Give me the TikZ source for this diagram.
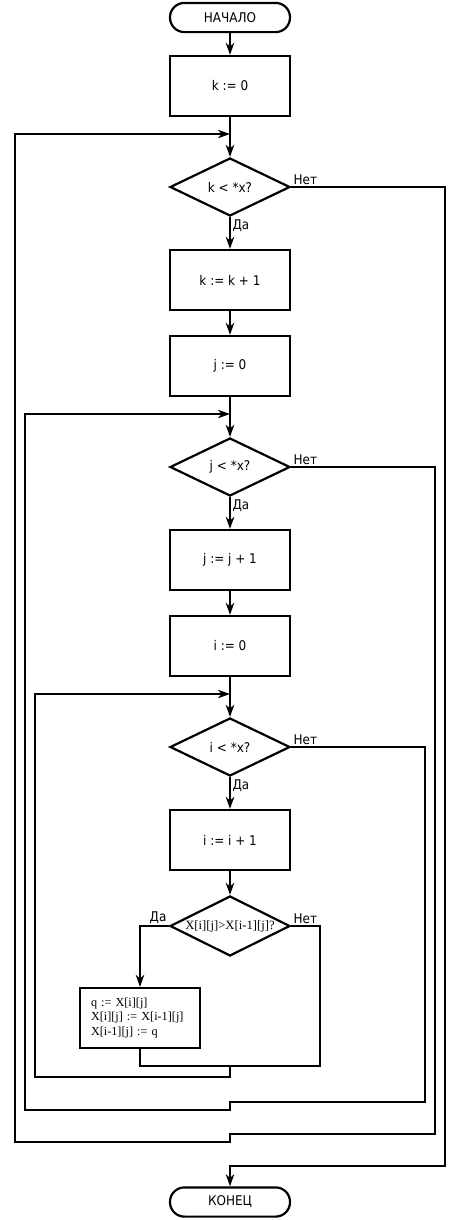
\documentclass[tikz,border=0pt]{standalone}
\usepackage{fontspec}
\setmainfont{DejaVu Sans Condensed}
\newfontfamily\qfont{Liberation Serif}
\usetikzlibrary{shapes.geometric,arrows.meta}
\begin{document}
\begin{tikzpicture}[x=0.25mm,y=-0.25mm,line width=0.55mm,
    every node/.style={font=\fontsize{9.5}{11}\selectfont},
    term/.style={draw,rectangle,rounded corners=3.6mm,minimum width=30mm,minimum height=7.3mm,inner sep=0pt},
    proc/.style={draw,rectangle,minimum width=30mm,minimum height=15mm,inner sep=0pt},
    cond/.style={draw,diamond,minimum width=30mm,minimum height=14.5mm,inner sep=0pt},
    flow/.style={-{Stealth[length=3mm,width=2.1mm,inset=0.9mm]}},
    lbl/.style={inner sep=1pt}]
    \useasboundingbox (0,0) rectangle (460,1220);
    \node[term] (start) at (230,17.5) {НАЧАЛО};
    \node[proc] (k0) at (230,86) {k := 0};
    \coordinate (kin) at (230,134);
    \node[cond] (kcond) at (230,187) {k < *x?};
    \node[proc] (kinc) at (230,280) {k := k + 1};
    \node[proc] (j0) at (230,366) {j := 0};
    \coordinate (jin) at (230,414);
    \node[cond] (jcond) at (230,467) {j < *x?};
    \node[proc] (jinc) at (230,560) {j := j + 1};
    \node[proc] (i0) at (230,646) {i := 0};
    \coordinate (iin) at (230,694);
    \node[cond] (icond) at (230,747) {i < *x?};
    \node[proc] (iinc) at (230,840) {i := i + 1};
    \node[cond,minimum height=15mm] (cmp) at (230,926) {\makebox[0pt]{\qfont\fontsize{9}{11}\selectfont X[i][j]>X[i-1][j]?}};
    \node[proc,align=left,text width=24.5mm,inner xsep=2.75mm,font=\qfont\fontsize{8.7}{10.3}\selectfont] (swap) at (140,1018) {q := X[i][j]\\X[i][j] := X[i-1][j]\\X[i-1][j] := q};
    \node[term] (stop) at (230,1202) {КОНЕЦ};
    \coordinate (merge) at (230,1066);
    \draw[flow] (start) -- (k0);
    \draw[flow] (k0) -- (kcond);
    \draw[flow] (kcond) -- (kinc);
    \draw[flow] (kinc) -- (j0);
    \draw[flow] (j0) -- (jcond);
    \draw[flow] (jcond) -- (jinc);
    \draw[flow] (jinc) -- (i0);
    \draw[flow] (i0) -- (icond);
    \draw[flow] (icond) -- (iinc);
    \draw[flow] (iinc) -- (cmp);
    \draw[flow] (cmp.west) -| (swap.north);
    \draw (swap.south) |- (320,1066) |- (cmp.east);
    \draw[flow] (merge) -- (230,1077) -| (35,694) -- (iin);
    \draw[flow] (icond.east) -| (425,1102) -| (230,1110) -| (25,414) -- (jin);
    \draw[flow] (jcond.east) -| (435,1134) -| (230,1142) -| (15,134) -- (kin);
    \draw[flow] (kcond.east) -| (445,1166) -| (stop.north);
    \node[lbl,above right] (kno) at (kcond.east) {Нет};
    \node[lbl,below right] (kyes) at (kcond.south) {Да};
    \node[lbl,above right] (jno) at (jcond.east) {Нет};
    \node[lbl,below right] (jyes) at (jcond.south) {Да};
    \node[lbl,above right] (ino) at (icond.east) {Нет};
    \node[lbl,below right] (iyes) at (icond.south) {Да};
    \node[lbl,above right] (cno) at (cmp.east) {Нет};
    \node[lbl,above left] (cyes) at (cmp.west) {Да};
\end{tikzpicture}
\end{document}
